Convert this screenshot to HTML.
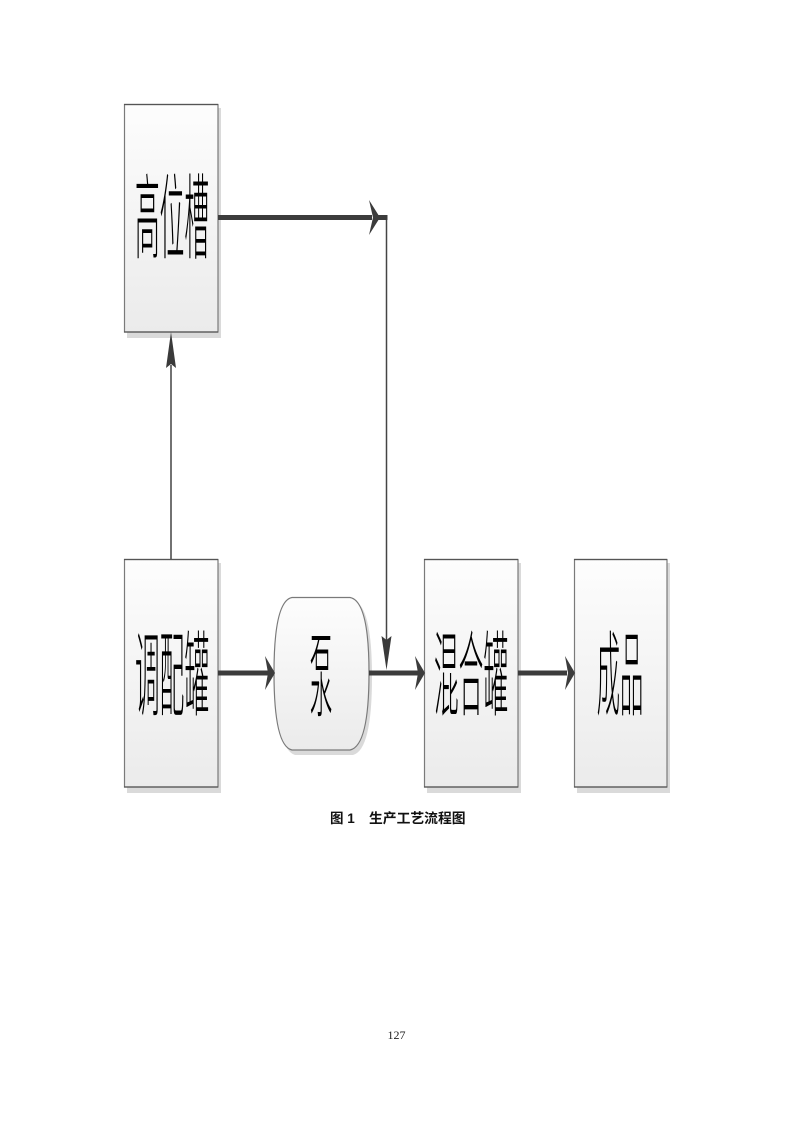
<!DOCTYPE html>
<html><head><meta charset="utf-8">
<style>
html,body{margin:0;padding:0;background:#fff;}
body{width:793px;height:1122px;overflow:hidden;position:relative;}
svg{position:absolute;left:0;top:0;}
</style></head>
<body>
<svg width="793" height="1122" viewBox="0 0 793 1122" xmlns="http://www.w3.org/2000/svg">
<defs>
<linearGradient id="g" x1="0" y1="0" x2="0" y2="1">
<stop offset="0" stop-color="#fdfdfd"/>
<stop offset="1" stop-color="#ebebeb"/>
</linearGradient>
</defs>
<!-- shadows -->
<g fill="#dadada">
<rect x="127" y="108" width="94" height="230"/>
<rect x="127" y="563" width="94" height="230"/>
<rect x="427" y="563" width="94" height="230"/>
<rect x="577" y="563" width="93" height="230"/>
<path d="M295,601 L353,601 Q372,604 372,677 Q372,750 353,755 L295,755 Q277,750 277,677 Q277,604 295,601 Z"/>
</g>
<!-- boxes -->
<g fill="url(#g)" stroke="#7a7a7a" stroke-width="1.2">
<rect x="124.5" y="104.5" width="93.5" height="227.5"/>
<rect x="124.5" y="559.5" width="93.5" height="227.5"/>
<rect x="424.5" y="559.5" width="93.5" height="227.5"/>
<rect x="574.5" y="559.5" width="92.5" height="227.5"/>
<path d="M292,597.5 L350,597.5 Q369,601 369,673 Q369,746 350,750 L292,750 Q274,746 274,673 Q274,601 292,597.5 Z"/>
</g>
<g stroke="#555" stroke-width="1.3">
<line x1="124" y1="104.5" x2="218" y2="104.5"/>
<line x1="124" y1="559.5" x2="218" y2="559.5"/>
<line x1="424" y1="559.5" x2="518" y2="559.5"/>
<line x1="574" y1="559.5" x2="667" y2="559.5"/>
<line x1="124" y1="332" x2="218" y2="332"/>
<line x1="124" y1="787" x2="218" y2="787"/>
<line x1="424" y1="787" x2="518" y2="787"/>
<line x1="574" y1="787" x2="667" y2="787"/>
</g>
<!-- thin connectors -->
<g stroke="#444" stroke-width="1.5" fill="none">
<line x1="171" y1="365" x2="171" y2="559"/>
<line x1="386.5" y1="217" x2="386.5" y2="640"/>
</g>
<g fill="#3a3a3a">
<path d="M171,332 L176,368 L171,364 L166,368 Z"/>
<path d="M386.5,670 L391.5,636 L386.5,640 L381.5,636 Z"/>
</g>
<!-- thick connectors -->
<g stroke="#3c3c3c" stroke-width="5" fill="none">
<line x1="218" y1="217.5" x2="372" y2="217.5"/>
<line x1="378" y1="217.5" x2="387.5" y2="217.5"/>
<line x1="218" y1="673" x2="268" y2="673"/>
<line x1="369" y1="673" x2="418" y2="673"/>
<line x1="518" y1="673" x2="567" y2="673"/>
</g>
<g fill="#3c3c3c">
<path d="M380,217.5 L369,200 L373,217.5 L369,235 Z"/>
<path d="M275,673 L265,656 L268,673 L265,690 Z"/>
<path d="M425,673 L415,656 L418,673 L415,690 Z"/>
<path d="M575,673 L565,656 L568,673 L565,690 Z"/>
</g>
<!-- labels -->
<g font-family="'Noto Sans CJK SC','WenQuanYi Zen Hei',sans-serif" font-size="93" font-weight="300" fill="#000" text-anchor="middle" dominant-baseline="central">
<text transform="translate(172,211) scale(0.265,1)">高位槽</text>
<text transform="translate(172,668) scale(0.265,1)">调配罐</text>
<text transform="translate(321,669) scale(0.25,1)">泵</text>
<text transform="translate(471,668) scale(0.265,1)">混合罐</text>
<text transform="translate(620,668) scale(0.25,1)">成品</text>
</g>
<text x="330" y="823" font-family="'Liberation Sans','Noto Sans CJK SC',sans-serif" font-size="13.5" font-weight="bold" fill="#111">图 1</text>
<text x="369" y="823" font-family="'Liberation Sans','Noto Sans CJK SC',sans-serif" font-size="13.8" font-weight="bold" fill="#111">生产工艺流程图</text>
<text x="396.5" y="1039" font-family="'Liberation Serif',serif" font-size="12" fill="#222" text-anchor="middle">127</text>
</svg>
</body></html>
